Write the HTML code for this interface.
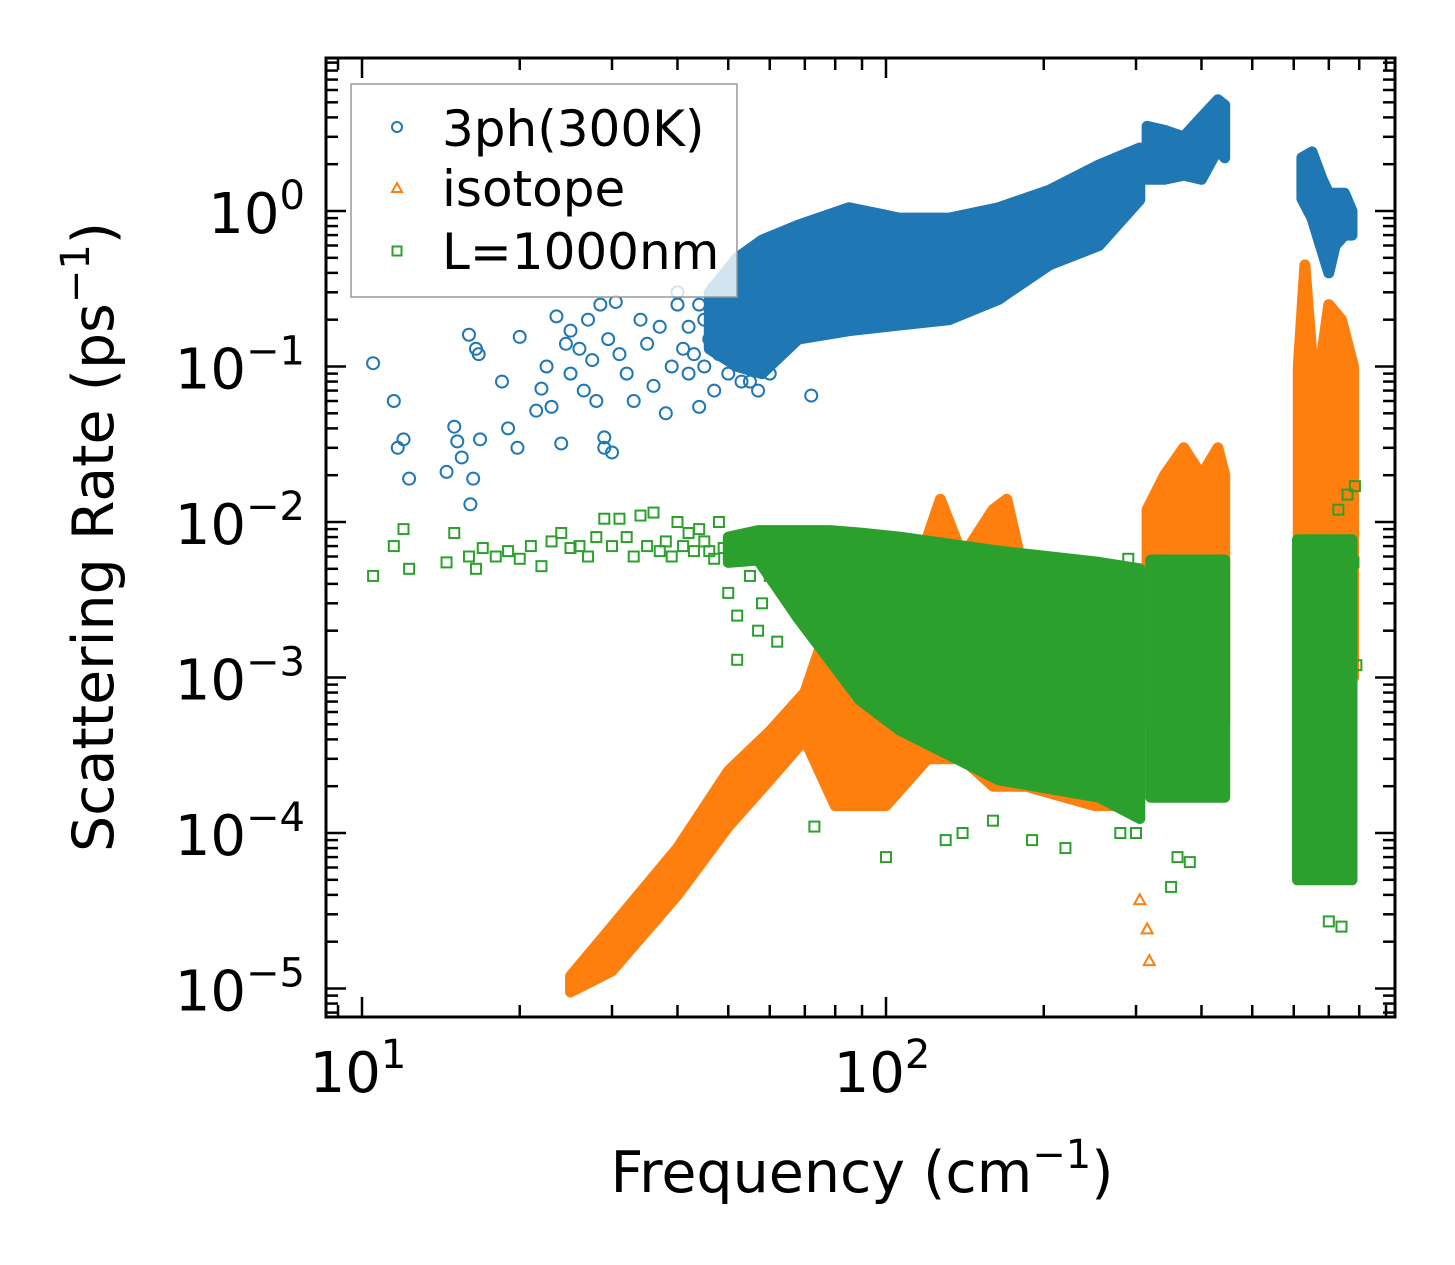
<!DOCTYPE html>
<html><head><meta charset="utf-8"><style>
html,body{margin:0;padding:0;background:#fff}
svg{display:block;font-family:"DejaVu Sans","Liberation Sans",sans-serif}
</style></head><body>
<svg id="chart" width="1455" height="1265" viewBox="0 0 1455 1265">
<rect width="1455" height="1265" fill="#fff"/>
<g id="marks"></g>
<g id="axes"></g>
</svg>
<script>
// ---- data ----
const xTicks=[1,2];
const yTicks=[0,-1,-2,-3,-4,-5];
// dense clouds: [freq, low, high]
const blueBand1=[[46,0.13,0.3],[52,0.1,0.5],[58,0.09,0.65],[68,0.15,0.81],[85,0.17,1.05],[106,0.185,0.9],[132,0.2,0.9],[164,0.27,1.05],[205,0.45,1.36],[255,0.6,1.98],[305,1.18,2.54]];
const blueBand2=[[315,1.6,3.5],[340,1.6,3.3],[370,1.7,3.0],[400,1.6,4.0],[430,2.5,5.2],[443,2.2,4.8]];
const blueBand3=[[622,1.2,2.2],[650,0.9,2.4],[680,0.55,1.6],[700,0.4,1.3],[720,0.6,1.3],[750,0.7,1.3],[775,0.7,1.0]];
const orangeBand1=[[25,0.0000095,0.000012],[30,0.000013,0.000025],[40,0.00004,0.00008],[50,0.00011,0.00025],[60,0.00022,0.00045],[70,0.0004,0.0008],[80,0.00015,0.003],[100,0.00015,0.004],[120,0.0003,0.008],[127,0.0003,0.014],[140,0.0003,0.006],[160,0.0002,0.012],[170,0.0002,0.014],[185,0.0002,0.004],[250,0.00015,0.003],[300,0.00015,0.003]];
const orangeBand2=[[315,0.0005,0.012],[340,0.0005,0.02],[370,0.0005,0.03],[400,0.0005,0.02],[430,0.0005,0.03],[443,0.0005,0.02]];
const orangeBand3=[[612,0.001,0.1],[630,0.0008,0.45],[660,0.001,0.06],[700,0.001,0.25],[740,0.001,0.2],[780,0.001,0.1]];
const greenBand1=[[50,0.0055,0.008],[57,0.0057,0.0088],[68,0.0024,0.0088],[78,0.0013,0.0088],[89,0.00072,0.0085],[106,0.00046,0.008],[164,0.00022,0.0065],[255,0.00017,0.0055],[305,0.000124,0.005]];
const greenBand2=[[320,0.00017,0.0057],[360,0.00017,0.0057],[400,0.00017,0.0057],[443,0.00017,0.0057]];
const greenBand3=[[610,0.00005,0.0077],[650,0.00005,0.0077],[700,0.00005,0.0077],[775,0.00005,0.0077]];
// sparse points: [freq, value]
const bluePts=[[10.5,0.105],[11.5,0.06],[11.7,0.03],[12,0.034],[12.3,0.019],[14.5,0.021],[15,0.041],[15.2,0.033],[15.5,0.026],[16,0.16],[16.1,0.013],[16.3,0.019],[16.5,0.13],[16.7,0.12],[16.8,0.034],[18.5,0.08],[19,0.04],[19.8,0.03],[20,0.155],[21.5,0.052],[22,0.072],[22.5,0.1],[23,0.055],[23.5,0.21],[24,0.032],[24.5,0.14],[25,0.09],[25,0.17],[26,0.13],[26.5,0.07],[27,0.2],[27.5,0.11],[28,0.06],[28.5,0.25],[29,0.035],[29,0.03],[29.5,0.15],[30,0.028],[30.5,0.26],[31,0.12],[32,0.09],[33,0.06],[34,0.2],[35,0.14],[36,0.075],[37,0.18],[38,0.05],[39,0.1],[40,0.25],[41,0.13],[42,0.09],[44,0.055],[45,0.2],[47,0.07],[48,0.3],[50,0.15],[55,0.08],[60,0.09],[72,0.065],[125,0.21],[40,0.3],[42,0.18],[43,0.12],[44,0.25],[45,0.1],[46,0.15],[47,0.32],[48,0.12],[49,0.2],[50,0.09],[52,0.35],[53,0.08],[55,0.38],[57,0.07]];
const orangePts=[[305,0.000037],[315,0.000024],[318,0.000015]];
const greenPts=[[10.5,0.0045],[11.5,0.007],[12,0.009],[12.3,0.005],[14.5,0.0055],[15,0.0085],[16,0.006],[16.5,0.005],[17,0.0068],[18,0.006],[19,0.0065],[20,0.0058],[21,0.007],[22,0.0052],[23,0.0075],[24,0.0085],[25,0.0068],[26,0.007],[27,0.006],[28,0.008],[29,0.0105],[30,0.007],[31,0.0105],[32,0.008],[34,0.011],[35,0.007],[36,0.0115],[38,0.0075],[40,0.01],[42,0.0085],[44,0.009],[46,0.0065],[48,0.01],[50,0.0035],[52,0.0025],[55,0.0045],[57,0.002],[60,0.0045],[52,0.0013],[58,0.003],[62,0.0017],[73,0.00011],[100,0.00007],[130,0.00009],[140,0.0001],[160,0.00012],[190,0.00009],[220,0.00008],[280,0.0001],[300,0.0001],[350,0.000045],[360,0.00007],[380,0.000065],[700,0.000027],[740,0.000025],[790,0.0012],[785,0.017],[780,0.0055],[730,0.012],[760,0.015],[290,0.0058],[270,0.005],[33,0.006],[37,0.0065],[39,0.006],[41,0.007],[43,0.0065],[45,0.0075],[47,0.0058],[49,0.0068]];

// ---- axes ----
const L=326,R=1395,T=58,B=1017;
const X=f=>362+(Math.log10(f)-1)*524;
const Y=v=>211-Math.log10(v)*155.5;
const NS="http://www.w3.org/2000/svg";
const marks=document.getElementById('marks'),axes=document.getElementById('axes');
function mk(tag,attrs,parent){const e=document.createElementNS(NS,tag);for(const k in attrs)e.setAttribute(k,attrs[k]);parent.appendChild(e);return e;}

function band(arr,color,name){
  const up=arr.map(d=>X(d[0]).toFixed(1)+','+Y(d[2]).toFixed(1));
  const lo=arr.slice().reverse().map(d=>X(d[0]).toFixed(1)+','+Y(d[1]).toFixed(1));
  const p=mk('polygon',{points:up.concat(lo).join(' '),fill:color,stroke:color,'stroke-width':11,'stroke-linejoin':'round'},marks);
  
  
}
function circ(x,y,c,parent){return mk('circle',{cx:x,cy:y,r:6,fill:'none',stroke:c,'stroke-width':2},parent);}
function tri(x,y,c,parent){return mk('polygon',{points:`${x},${y-6} ${x-5.5},${y+4} ${x+5.5},${y+4}`,fill:'none',stroke:c,'stroke-width':2},parent);}
function sq(x,y,c,parent){return mk('rect',{x:x-5,y:y-5,width:10,height:10,fill:'none',stroke:c,'stroke-width':2},parent);}

const BL='#1f77b4',OR='#ff7f0e',GR='#2ca02c';
band(blueBand1,BL,'blue-cloud-1');band(blueBand2,BL,'blue-cloud-2');band(blueBand3,BL,'blue-cloud-3');
bluePts.forEach(d=>{const e=circ(X(d[0]),Y(d[1]),BL,marks);

});
band(orangeBand1,OR,'orange-cloud-1');band(orangeBand2,OR,'orange-cloud-2');band(orangeBand3,OR,'orange-cloud-3');
orangePts.forEach(d=>{const e=tri(X(d[0]),Y(d[1]),OR,marks);

});
band(greenBand1,GR,'green-cloud-1');band(greenBand2,GR,'green-cloud-2');band(greenBand3,GR,'green-cloud-3');
greenPts.forEach(d=>{const e=sq(X(d[0]),Y(d[1]),GR,marks);

});

// frame
mk('rect',{x:L,y:T,width:R-L,height:B-T,fill:'none',stroke:'#000','stroke-width':3},axes);
for(let d=0;d<=2;d++){for(let m=1;m<10;m++){const f=m*Math.pow(10,d);const x=X(f);if(x<L||x>R)continue;
 const len=m===1?20:12;
 mk('line',{x1:x,y1:B,x2:x,y2:B-len,stroke:'#000','stroke-width':2.5},axes);
 mk('line',{x1:x,y1:T,x2:x,y2:T+len,stroke:'#000','stroke-width':2.5},axes);}}
for(let d=-6;d<=1;d++){for(let m=1;m<10;m++){const v=m*Math.pow(10,d);const y=Y(v);if(y<T||y>B)continue;
 const len=m===1?20:12;
 mk('line',{x1:L,y1:y,x2:L+len,y2:y,stroke:'#000','stroke-width':2.5},axes);
 mk('line',{x1:R,y1:y,x2:R-len,y2:y,stroke:'#000','stroke-width':2.5},axes);}}
xTicks.forEach(e=>{const t=mk('text',{x:X(Math.pow(10,e))-4,y:1092,'font-size':56,'text-anchor':'middle'},axes);
 
 
 t.innerHTML='10<tspan dy="-24" font-size="40">'+e+'</tspan>';});
yTicks.forEach(e=>{const t=mk('text',{x:305,y:Y(Math.pow(10,e))+22,'font-size':56,'text-anchor':'end'},axes);
 
 
 const s=e<0?'\u2212'+(-e):''+e;
 t.innerHTML='10<tspan dy="-24" font-size="40">'+s+'</tspan>';});
</script>
<svg style="position:absolute;left:0;top:0" width="1455" height="1265">
<text x="862" y="1192" font-size="57" text-anchor="middle" font-family="DejaVu Sans, Liberation Sans, sans-serif">Frequency (cm<tspan dy="-24" font-size="40">−1</tspan><tspan dy="24">)</tspan></text>
<text transform="translate(113,537) rotate(-90)" font-size="57" text-anchor="middle" font-family="DejaVu Sans, Liberation Sans, sans-serif">Scattering Rate (ps<tspan dy="-24" font-size="40">−1</tspan><tspan dy="24">)</tspan></text>
<g font-family="DejaVu Sans, Liberation Sans, sans-serif">
<rect x="351" y="84" width="386" height="213" fill="#fff" fill-opacity="0.8" stroke="#999" stroke-width="1.5"/>
<circle cx="397" cy="127" r="5" fill="none" stroke="#1f77b4" stroke-width="2"/>
<text x="442" y="146" font-size="50">3ph(300K)</text>
<polygon points="397,183 392,192 402,192" fill="none" stroke="#ff7f0e" stroke-width="2"/>
<text x="442" y="206" font-size="50">isotope</text>
<rect x="392.5" y="246.5" width="9" height="9" fill="none" stroke="#2ca02c" stroke-width="2"/>
<text x="442" y="269" font-size="50">L=1000nm</text>
</g>
</svg>
</body></html>
